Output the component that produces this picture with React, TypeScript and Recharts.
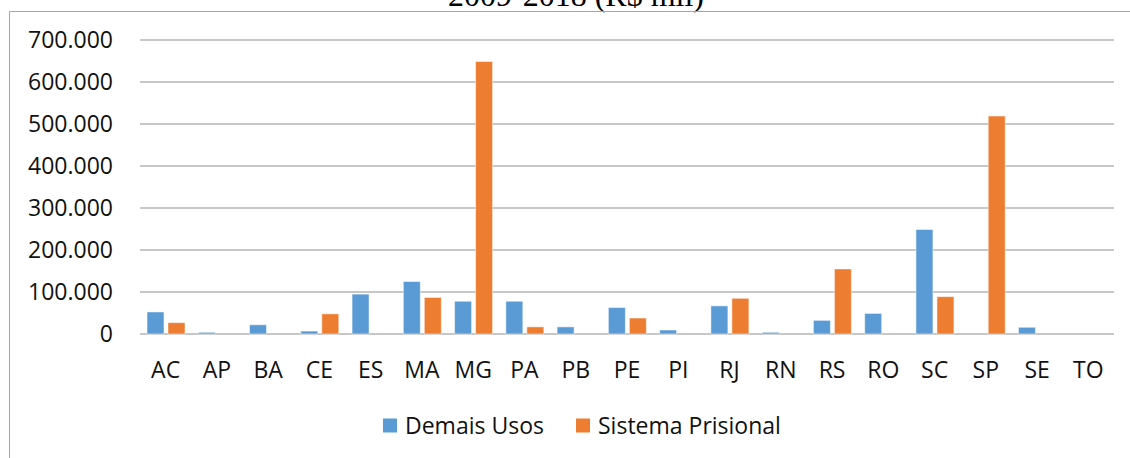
import React from 'react';
import { BarChart, Bar, XAxis, YAxis, CartesianGrid } from 'recharts';

// UF list and the two series, R$ mil (2009-2018)
const estados = ['AC', 'AP', 'BA', 'CE', 'ES', 'MA', 'MG', 'PA', 'PB', 'PE', 'PI', 'RJ', 'RN', 'RS', 'RO', 'SC', 'SP', 'SE', 'TO'];
const demaisUsos = [52500, 4000, 22000, 7000, 95000, 125000, 78000, 78000, 17000, 63000, 9500, 67000, 4000, 32500, 49000, 249000, 0, 16000, 0];
const sistemaPrisional = [27000, 0, 0, 48000, 0, 87000, 649000, 17000, 0, 38000, 0, 85000, 0, 155000, 0, 89000, 519000, 0, 0];
const yTicks = [0, 100000, 200000, 300000, 400000, 500000, 600000, 700000];

const BLUE = '#5b9bd5';
const ORANGE = '#ed7d31';
const FONT = '"Open Sans", sans-serif';

const data = estados.map((uf, i) => ({
  uf,
  demais: demaisUsos[i],
  prisional: sistemaPrisional[i]
}));

// pt-BR thousands separator
const fmt = (n: number) => String(n).replace(/\B(?=(\d{3})+(?!\d))/g, '.');

export default function App() {
  return (
    <div style={{ position: 'absolute', left: 0, top: 0, width: 1130, height: 458, overflow: 'hidden', background: '#fff' }}>
      <svg width={1130} height={458} style={{ position: 'absolute', left: 0, top: 0 }}>
        <text x={576} y={6} textAnchor="middle" fontFamily='"Liberation Serif", serif' fontSize={32} fill="#000">
          2009-2018 (R$ mil)
        </text>
        <line x1={9.5} y1={11.5} x2={1130} y2={11.5} stroke="#a6a6a6" strokeWidth={1} />
        <line x1={9.5} y1={11.5} x2={9.5} y2={458} stroke="#a6a6a6" strokeWidth={1} />
      </svg>
      <div style={{ position: 'absolute', left: 0, top: 0 }}>
        <BarChart
          width={1130}
          height={458}
          data={data}
          margin={{ top: 40, right: 16, bottom: 0, left: 0 }}
          barSize={17}
          barGap={4}
        >
          <CartesianGrid horizontal={true} vertical={false} stroke="#8f8f8f" strokeWidth={1} />
          <XAxis
            dataKey="uf"
            height={124}
            axisLine={false}
            tickLine={false}
            tickSize={0}
            tickMargin={28}
            interval={0}
            tick={{ fontFamily: FONT, fontSize: 23, fill: '#111' }}
          />
          <YAxis
            width={140}
            domain={[0, 700000]}
            ticks={yTicks}
            axisLine={false}
            tickLine={false}
            tickSize={0}
            tickMargin={27}
            tickFormatter={fmt}
            tick={{ fontFamily: FONT, fontSize: 23, fill: '#111' }}
          />
          <Bar dataKey="demais" name="Demais Usos" fill={BLUE} stroke="#ffffff" strokeOpacity={0.5} isAnimationActive={false} />
          <Bar dataKey="prisional" name="Sistema Prisional" fill={ORANGE} stroke="#ffffff" strokeOpacity={0.5} isAnimationActive={false} />
        </BarChart>
      </div>
      <svg width={1130} height={458} style={{ position: 'absolute', left: 0, top: 0, pointerEvents: 'none' }}>
        <rect x={383} y={418.5} width={14} height={14} fill={BLUE} />
        <text x={405} y={433.5} fontFamily={FONT} fontSize={23} fill="#111">Demais Usos</text>
        <rect x={576} y={418.5} width={14} height={14} fill={ORANGE} />
        <text x={598} y={433.5} fontFamily={FONT} fontSize={23} fill="#111">Sistema Prisional</text>
      </svg>
    </div>
  );
}
